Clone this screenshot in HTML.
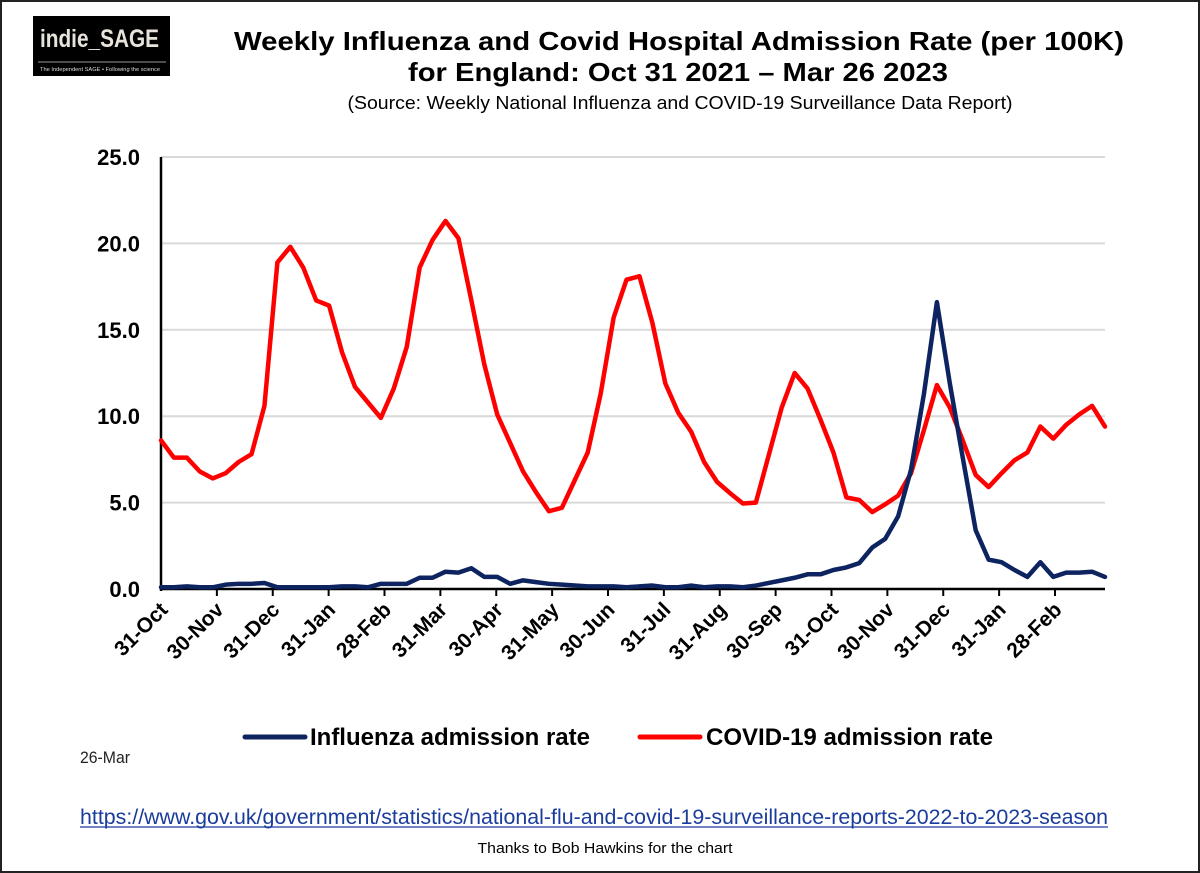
<!DOCTYPE html>
<html><head><meta charset="utf-8"><style>
body{margin:0;background:#fff}
svg{display:block;font-family:"Liberation Sans",sans-serif}
</style></head><body>
<svg width="1200" height="873" viewBox="0 0 1200 873">
<rect x="1" y="1" width="1198" height="871" fill="#fff" stroke="#222" stroke-width="2"/>
<g>
<rect x="33" y="16" width="137" height="60" fill="#000"/>
<text x="40" y="47" font-size="25" font-weight="bold" fill="#e8e4dc" textLength="119" lengthAdjust="spacingAndGlyphs">indie_SAGE</text>
<line x1="38" y1="62" x2="166" y2="62" stroke="#ccc" stroke-width="0.8"/>
<text x="40" y="71" font-size="5.6" fill="#ddd" textLength="120" lengthAdjust="spacingAndGlyphs">The Independent SAGE • Following the science</text>
</g>
<text x="679" y="50" text-anchor="middle" font-size="26" font-weight="bold" textLength="890" lengthAdjust="spacingAndGlyphs">Weekly Influenza and Covid Hospital Admission Rate (per 100K)</text>
<text x="678" y="81" text-anchor="middle" font-size="26" font-weight="bold" textLength="540" lengthAdjust="spacingAndGlyphs">for England: Oct 31 2021 – Mar 26 2023</text>
<text x="680" y="109" text-anchor="middle" font-size="18" textLength="665" lengthAdjust="spacingAndGlyphs">(Source: Weekly National Influenza and COVID-19 Surveillance Data Report)</text>
<g id="grid"></g>
<g id="yticks"></g>
<g id="xaxis"></g>
<g id="series"></g>
<g>
<line x1="245" y1="737" x2="305" y2="737" stroke="#0d2461" stroke-width="5" stroke-linecap="round"/>
<text x="310" y="745" font-size="24" font-weight="bold" textLength="280" lengthAdjust="spacingAndGlyphs">Influenza admission rate</text>
<line x1="640" y1="737" x2="700" y2="737" stroke="#ff0000" stroke-width="5" stroke-linecap="round"/>
<text x="706" y="745" font-size="24" font-weight="bold" textLength="287" lengthAdjust="spacingAndGlyphs">COVID-19 admission rate</text>
</g>
<text x="80" y="763" font-size="17" fill="#222" textLength="50" lengthAdjust="spacingAndGlyphs">26-Mar</text>
<text x="80" y="824" font-size="21" fill="#1a3c9c" textLength="1028" lengthAdjust="spacingAndGlyphs">https://www.gov.uk/government/statistics/national-flu-and-covid-19-surveillance-reports-2022-to-2023-season</text>
<line x1="80" y1="827" x2="1108" y2="827" stroke="#1a3c9c" stroke-width="1.3"/>
<text x="605" y="853" text-anchor="middle" font-size="15" textLength="255" lengthAdjust="spacingAndGlyphs">Thanks to Bob Hawkins for the chart</text>
</svg>
<script>
const yTicks=[0,5,10,15,20,25];
const yTickLabels=["0.0","5.0","10.0","15.0","20.0","25.0"];
const xLabels=["31-Oct","30-Nov","31-Dec","31-Jan","28-Feb","31-Mar","30-Apr","31-May","30-Jun","31-Jul","31-Aug","30-Sep","31-Oct","30-Nov","31-Dec","31-Jan","28-Feb"];
const covid=[8.6,7.6,7.6,6.8,6.4,6.7,7.35,7.8,10.6,18.9,19.8,18.6,16.7,16.4,13.7,11.7,10.8,9.9,11.6,14.0,18.6,20.2,21.3,20.3,16.7,13.0,10.1,8.45,6.8,5.6,4.5,4.7,6.3,7.9,11.3,15.7,17.9,
18.1,15.4,11.9,10.2,9.1,7.35,6.2,5.55,4.95,5.0,7.75,10.5,12.5,11.6,9.8,7.9,5.3,5.15,4.45,4.9,5.4,6.7,9.2,11.8,10.5,8.6,6.6,5.9,6.7,7.45,7.9,9.4,8.7,9.5,10.1,10.6,9.4];
const flu=[0.1,0.1,0.15,0.1,0.1,0.25,0.3,0.3,0.35,0.1,0.1,0.1,0.1,0.1,0.15,0.15,0.1,0.3,0.3,0.3,0.65,0.65,1.0,0.95,1.2,0.7,0.7,0.3,0.5,0.4,0.3,0.25,0.2,0.15,0.15,0.15,0.1,
0.15,0.2,0.1,0.1,0.2,0.1,0.15,0.15,0.1,0.2,0.35,0.5,0.65,0.85,0.85,1.1,1.25,1.5,2.4,2.9,4.2,6.9,11.3,16.6,11.9,7.6,3.4,1.7,1.55,1.1,0.7,1.55,0.7,0.95,0.95,1.0,0.7];
const NS="http://www.w3.org/2000/svg";
const X0=161,X1=1105,Y0=589,Y25=157;
const x=i=>X0+i*(X1-X0)/(covid.length-1);
const y=v=>Y0-v*(Y0-Y25)/25;
const mk=(t,a,p)=>{const e=document.createElementNS(NS,t);for(const k in a)e.setAttribute(k,a[k]);p.appendChild(e);return e;};
const grid=document.getElementById('grid'),yt=document.getElementById('yticks'),xa=document.getElementById('xaxis'),se=document.getElementById('series');
yTicks.forEach((v,i)=>{
 if(v>0){const g=mk('line',{x1:X0,x2:X1,y1:y(v),y2:y(v),stroke:'#d9d9d9','stroke-width':2},grid);
 
 }
 const t=mk('text',{x:140,y:y(v)+8,'text-anchor':'end','font-size':22,'font-weight':'bold'},yt);
 t.textContent=yTickLabels[i];
 
 
});
const ax=mk('line',{x1:X0,x2:X0,y1:Y25,y2:Y0+2,stroke:'#000','stroke-width':2.5},xa);


const bx=mk('line',{x1:X0,x2:X1,y1:Y0,y2:Y0,stroke:'#000','stroke-width':2.5},xa);


const step=(1055-X0)/(xLabels.length-1);
xLabels.forEach((l,i)=>{
 const tx=X0+i*step;
 if(i>0){const tk=mk('line',{x1:tx,x2:tx,y1:Y0,y2:Y0+7,stroke:'#000','stroke-width':2},xa);
 
 }
 const t=mk('text',{x:tx+8,y:Y0+22,'text-anchor':'end','font-size':21,'font-weight':'bold',transform:`rotate(-45 ${tx+8} ${Y0+22})`},xa);
 t.textContent=l;
 
 
});
const line=(d,c,n)=>{const p=mk('polyline',{points:d.map((v,i)=>x(i)+','+y(v)).join(' '),fill:'none',stroke:c,'stroke-width':4.5,'stroke-linejoin':'round','stroke-linecap':'round'},se);
 
 };
line(covid,'#ff0000','covid-line');
line(flu,'#0d2461','influenza-line');
</script>
</body></html>
